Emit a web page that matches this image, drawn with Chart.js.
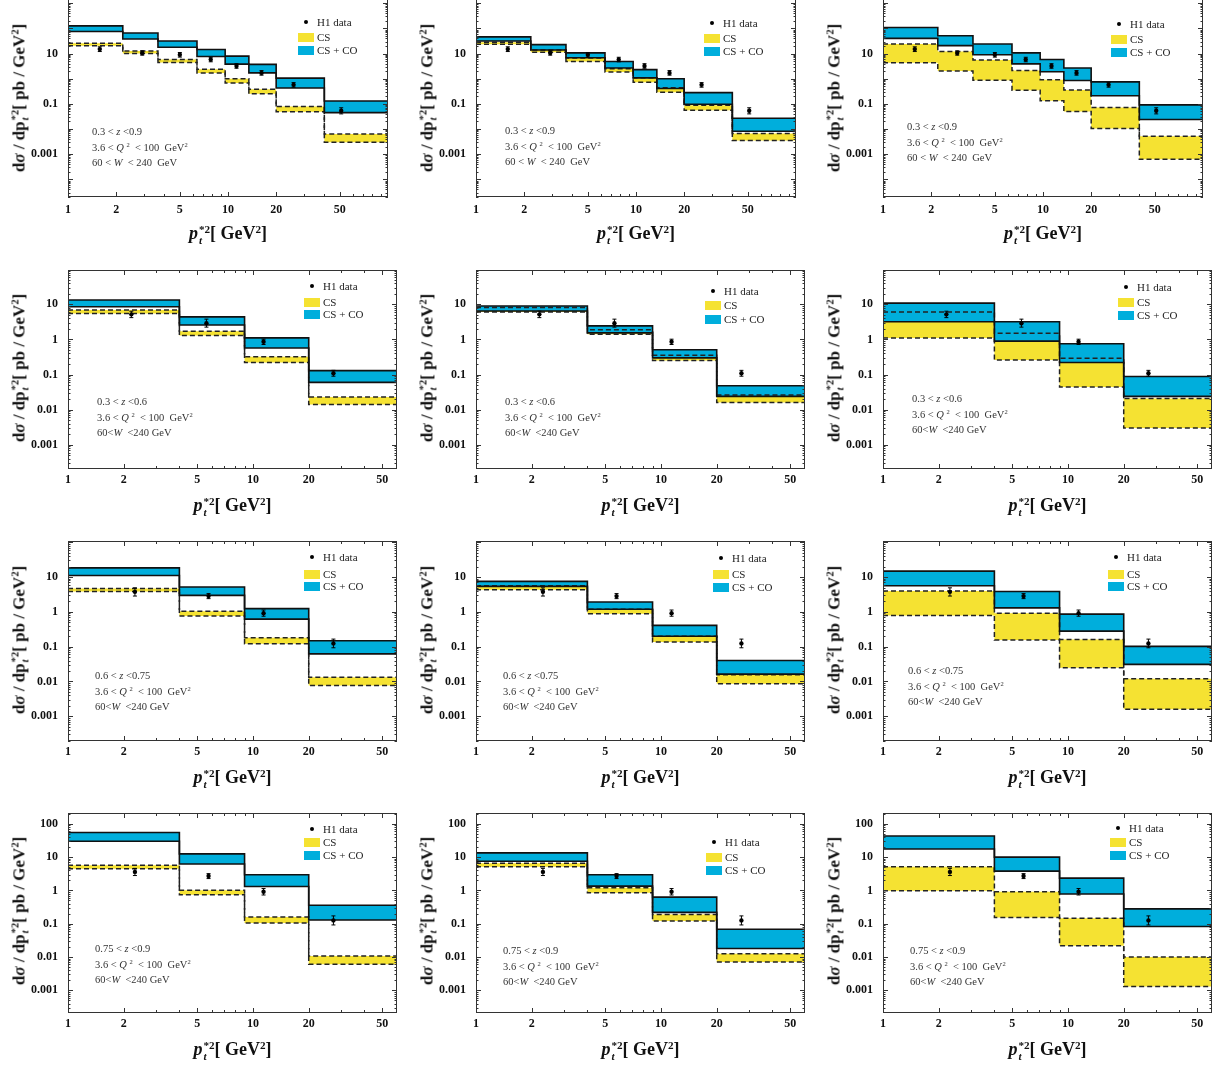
<!DOCTYPE html>
<html>
<head>
<meta charset="utf-8">
<script src="https://cdn.jsdelivr.net/npm/chart.js@4.4.1/dist/chart.umd.min.js"></script>
<style>
body{margin:0;background:#fff;width:1225px;height:1065px;overflow:hidden;position:relative;font-family:"Liberation Serif",serif;color:#111;}
canvas{position:absolute;}
.yt{position:absolute;transform:translate(-50%,-50%) rotate(-90deg);white-space:nowrap;font-weight:bold;font-size:17px;}
.xt{position:absolute;transform:translate(-50%,-50%);white-space:nowrap;font-weight:bold;font-size:18px;}
.ann{position:absolute;font-size:10.5px;color:#333;white-space:nowrap;line-height:15.5px;}
.lg{position:absolute;font-size:11px;color:#222;white-space:nowrap;line-height:11px;}
.ss{display:inline-block;vertical-align:middle;line-height:0.95;font-size:0.62em;text-align:left;margin-left:1px;}
.ss span{display:block;}
sup{font-size:0.62em;vertical-align:0.55em;line-height:0;}
.dot{position:absolute;width:4px;height:4px;border-radius:50%;background:#000;}
.sw{position:absolute;width:16px;height:9px;}
</style>
</head>
<body>
<script>
// bin edges (pt*^2, GeV^2)
const edgesA = [1, 2.2, 3.65, 6.4, 9.6, 13.5, 20, 40, 100];
const edgesB = [1, 4, 9, 20, 60];

// H1 data per row
const h1xA = [1.58, 2.91, 5.0, 7.8, 11.3, 16.2, 25.7, 51];
const h1yA = [15, 10.5, 8.9, 5.8, 3.2, 1.7, 0.57, 0.053];
const h1loA = [12, 8.6, 7.2, 4.7, 2.6, 1.38, 0.46, 0.040];
const h1hiA = [18.5, 12.8, 11, 7.1, 3.95, 2.1, 0.7, 0.07];

const h1xB = [2.2, 5.6, 11.4, 27.2];
const h1yB = [5.2, 2.9, 0.86, 0.109];
const h1loB = [4.2, 2.25, 0.72, 0.09];
const h1hiB = [6.4, 3.8, 1.02, 0.132];

const h1xC = [2.3, 5.75, 11.4, 27.2];
const h1yC = [3.76, 2.84, 0.92, 0.124];
const h1loC = [2.85, 2.4, 0.75, 0.093];
const h1hiC = [4.9, 3.35, 1.13, 0.165];

const h1xD = [2.3, 5.75, 11.4, 27.2];
const h1yD = [3.6, 2.7, 0.91, 0.126];
const h1loD = [2.8, 2.27, 0.73, 0.092];
const h1hiD = [4.6, 3.2, 1.14, 0.172];

// CS+CO (blue) and CS (yellow) bands, upper / lower per bin
const coHi1 = [126, 65, 31.4, 14.4, 7.9, 3.7, 1.05, 0.13];
const coLo1 = [75, 38, 17.7, 7.6, 3.8, 1.7, 0.43, 0.045];
const csHi1 = [25.4, 12.7, 5.8, 2.35, 0.99, 0.38, 0.079, 0.0063];
const csLo1 = [20.6, 10, 4.4, 1.7, 0.67, 0.25, 0.049, 0.003];

const coHi2 = [46, 22.5, 10.6, 4.85, 2.29, 1.0, 0.28, 0.027];
const coLo2 = [31.4, 13.9, 6.8, 2.66, 1.08, 0.41, 0.097, 0.0082];
const csHi2 = [27.8, 13.9, 6.6, 2.5, 1.08, 0.44, 0.089, 0.0066];
const csLo2 = [23.2, 11.3, 4.85, 1.86, 0.73, 0.29, 0.056, 0.0035];

const coHi3 = [108, 51, 24, 10.6, 5.8, 2.66, 0.75, 0.091];
const coLo3 = [40, 20.6, 8.9, 3.9, 1.9, 0.85, 0.21, 0.024];
const csHi3 = [24, 12, 5.5, 2.1, 0.9, 0.355, 0.072, 0.0052];
const csLo3 = [4.3, 2.03, 0.87, 0.35, 0.134, 0.05, 0.0105, 0.00063];

const coHi4 = [13.3, 4.4, 1.11, 0.13];
const coLo4 = [8.6, 2.6, 0.57, 0.06];
const csHi4 = [6.9, 1.71, 0.32, 0.023];
const csLo4 = [5.5, 1.29, 0.22, 0.014];

const coHi5 = [9.0, 2.45, 0.51, 0.048];
const coLo5 = [6.5, 1.54, 0.30, 0.024];
const csHi5 = [8.1, 1.9, 0.355, 0.026];
const csLo5 = [6.1, 1.41, 0.25, 0.016];

const coHi6 = [10.9, 3.2, 0.76, 0.088];
const coLo6 = [3.2, 0.9, 0.22, 0.024];
const csHi6 = [6.1, 1.5, 0.29, 0.021];
const csLo6 = [1.11, 0.26, 0.044, 0.003];

const coHi7 = [18.4, 5.2, 1.24, 0.148];
const coLo7 = [11.1, 2.97, 0.62, 0.062];
const csHi7 = [4.7, 1.05, 0.18, 0.0133];
const csLo7 = [3.85, 0.76, 0.122, 0.0077];

const coHi8 = [7.5, 1.92, 0.41, 0.04];
const coLo8 = [5.4, 1.19, 0.2, 0.0163];
const csHi8 = [5.6, 1.19, 0.2, 0.0155];
const csLo8 = [4.3, 0.88, 0.136, 0.0086];

const coHi9 = [14.8, 3.85, 0.86, 0.102];
const coLo9 = [5.6, 1.3, 0.28, 0.031];
const csHi9 = [4.0, 0.92, 0.162, 0.012];
const csLo9 = [0.79, 0.155, 0.025, 0.0016];

const coHi10 = [55, 12.5, 2.97, 0.36];
const coLo10 = [30, 6.2, 1.31, 0.13];
const csHi10 = [5.7, 1.02, 0.16, 0.0107];
const csLo10 = [4.5, 0.74, 0.105, 0.0061];

const coHi11 = [13.4, 2.97, 0.63, 0.068];
const coLo11 = [7.5, 1.35, 0.22, 0.018];
const csHi11 = [6.6, 1.2, 0.19, 0.0126];
const csLo11 = [5.1, 0.85, 0.12, 0.0071];

const coHi12 = [43, 10, 2.35, 0.28];
const coLo12 = [17.6, 3.8, 0.78, 0.083];
const csHi12 = [5.1, 0.91, 0.145, 0.01];
const csLo12 = [0.98, 0.155, 0.022, 0.0013];

// tick labels
const xTicks = [1, 2, 5, 10, 20, 50];
const yTicksA = [10, 0.1, 0.001];
const yTicksB = [10, 1, 0.1, 0.01, 0.001];
const yTicksD = [100, 10, 1, 0.1, 0.01, 0.001];

const zRanges = ['0.3 &lt; <i>z</i> &lt;0.9', '0.3 &lt; <i>z</i> &lt;0.6', '0.6 &lt; <i>z</i> &lt;0.75', '0.75 &lt; <i>z</i> &lt;0.9'];

const BLUE = '#00AEDC', YELLOW = '#F5E232';

const rows = [
  {edges: edgesA, x: h1xA, y: h1yA, lo: h1loA, hi: h1hiA, yt: yTicksA, xmax: 100, ymin: -4.70, ymax: 3.405, top: -10, h: 207, w: 320, pad: 6, mid: 98},
  {edges: edgesB, x: h1xB, y: h1yB, lo: h1loB, hi: h1hiB, yt: yTicksB, xmax: 60, ymin: -3.69, ymax: 1.98, top: 267, h: 202, w: 329, pad: 4, mid: 368},
  {edges: edgesB, x: h1xC, y: h1yC, lo: h1loC, hi: h1hiC, yt: yTicksB, xmax: 60, ymin: -3.71, ymax: 2.036, top: 538, h: 203, w: 329, pad: 4, mid: 640},
  {edges: edgesB, x: h1xD, y: h1yD, lo: h1loD, hi: h1hiD, yt: yTicksD, xmax: 60, ymin: -3.68, ymax: 2.325, top: 810, h: 203, w: 329, pad: 4, mid: 911}
];
const colLeft = [0, 408, 815];

const bands = [
  [coHi1, coLo1, csHi1, csLo1], [coHi2, coLo2, csHi2, csLo2], [coHi3, coLo3, csHi3, csLo3],
  [coHi4, coLo4, csHi4, csLo4], [coHi5, coLo5, csHi5, csLo5], [coHi6, coLo6, csHi6, csLo6],
  [coHi7, coLo7, csHi7, csLo7], [coHi8, coLo8, csHi8, csLo8], [coHi9, coLo9, csHi9, csLo9],
  [coHi10, coLo10, csHi10, csLo10], [coHi11, coLo11, csHi11, csLo11], [coHi12, coLo12, csHi12, csLo12]
];

// legend: swatch left, row y for H1 / CS / CS+CO ; annotation: left, first line centre
const legendPos = [
  [298, 22, 37, 50], [704, 23, 38, 51], [1111, 24, 39, 52],
  [304, 286, 302, 314], [705, 291, 305, 319], [1118, 287, 302, 315],
  [304, 557, 574, 586], [713, 558, 574, 587], [1108, 557, 574, 586],
  [304, 829, 842, 855], [706, 842, 857, 870], [1110, 828, 842, 855]
];
const annPos = [
  [92, 132], [505, 131], [907, 127],
  [97, 402], [505, 402], [912, 399],
  [95, 676], [503, 676], [908, 671],
  [95, 949], [503, 951], [910, 951]
];

const frameTicks = {
  id: 'frameTicks',
  afterDatasetsDraw(chart) {
    const {ctx, chartArea: a, scales: {x, y}} = chart;
    ctx.save();
    ctx.strokeStyle = '#333';
    ctx.lineWidth = 1;
    ctx.strokeRect(a.left + 0.5, a.top + 0.5, a.right - a.left - 1, a.bottom - a.top - 1);
    ctx.beginPath();
    for (let k = Math.floor(Math.log10(x.min)); k <= Math.ceil(Math.log10(x.max)); k++) {
      for (let m = 1; m < 10; m++) {
        const v = m * Math.pow(10, k);
        if (v <= x.min || v >= x.max) continue;
        const px = Math.round(x.getPixelForValue(v)) + 0.5;
        const len = (m === 1 || m === 2 || m === 5) ? 5 : 3;
        ctx.moveTo(px, a.bottom); ctx.lineTo(px, a.bottom - len);
        ctx.moveTo(px, a.top); ctx.lineTo(px, a.top + len);
      }
    }
    for (let k = Math.floor(Math.log10(y.min)); k <= Math.ceil(Math.log10(y.max)); k++) {
      for (let m = 1; m < 10; m++) {
        const v = m * Math.pow(10, k);
        if (v <= y.min || v >= y.max) continue;
        const py = Math.round(y.getPixelForValue(v)) + 0.5;
        const len = m === 1 ? 5 : 2.5;
        ctx.moveTo(a.left, py); ctx.lineTo(a.left + len, py);
        ctx.moveTo(a.right, py); ctx.lineTo(a.right - len, py);
      }
    }
    ctx.stroke();
    ctx.restore();
  }
};

function steps(edges, vals) {
  return edges.map((e, i) => ({x: e, y: vals[Math.min(i, vals.length - 1)]}));
}

function addDiv(cls, html, left, top) {
  const d = document.createElement('div');
  d.className = cls;
  d.innerHTML = html;
  d.style.left = left + 'px';
  d.style.top = top + 'px';
  document.body.appendChild(d);
  return d;
}

const tickFont = {family: 'Liberation Serif', weight: 'bold', size: 12};
const yTitle = 'd<i>σ</i> / dp<span class="ss"><span>*2</span><span><i>t</i></span></span>[ pb / GeV<sup>2</sup>]';
const xTitle = '<i>p</i><span class="ss"><span>*2</span><span><i>t</i></span></span>[ GeV<sup>2</sup>]';

bands.forEach((b, i) => {
  const r = rows[Math.floor(i / 3)];
  const cl = colLeft[i % 3];
  const cv = document.createElement('canvas');
  cv.width = 68 + r.w + 6;
  cv.height = 2 + r.h + 40;
  cv.style.left = cl + 'px';
  cv.style.top = (r.top - 2) + 'px';
  document.body.appendChild(cv);

  const errPts = [];
  r.x.forEach((xv, j) => {
    errPts.push({x: xv, y: r.lo[j]}, {x: xv, y: r.hi[j]}, {x: xv, y: null});
  });

  new Chart(cv, {
    type: 'line',
    data: {
      datasets: [
        {data: errPts, borderColor: '#000', borderWidth: 1, pointStyle: 'line', pointRadius: 2,
         pointBorderWidth: 1, pointBorderColor: '#000', spanGaps: false},
        {data: r.x.map((xv, j) => ({x: xv, y: r.y[j]})), showLine: false, pointRadius: 2.2,
         pointBackgroundColor: '#000', pointBorderColor: '#000', pointBorderWidth: 0},
        {data: steps(r.edges, b[0]), stepped: true, borderColor: '#111', borderWidth: 1.6,
         pointRadius: 0, fill: '+1', backgroundColor: BLUE},
        {data: steps(r.edges, b[1]), stepped: true, borderColor: '#111', borderWidth: 1.6, pointRadius: 0},
        {data: steps(r.edges, b[2]), stepped: true, borderColor: '#222', borderWidth: 1.5, borderDash: [5, 3],
         pointRadius: 0, fill: '+1', backgroundColor: YELLOW},
        {data: steps(r.edges, b[3]), stepped: true, borderColor: '#222', borderWidth: 1.5, borderDash: [5, 3], pointRadius: 0}
      ]
    },
    options: {
      responsive: false,
      animation: false,
      events: [],
      layout: {padding: {top: 2, right: 6, left: 0, bottom: 0}},
      plugins: {legend: {display: false}, tooltip: {enabled: false}, filler: {drawTime: 'beforeDatasetsDraw'}},
      scales: {
        x: {
          type: 'logarithmic', min: 1, max: r.xmax,
          grid: {display: false, drawTicks: false}, border: {display: false},
          ticks: {font: tickFont, color: '#111', padding: r.pad, maxRotation: 0, autoSkip: false, callback: v => String(v)},
          afterBuildTicks: s => { s.ticks = xTicks.map(v => ({value: v})); },
          afterFit: s => { s.height = 40; s.paddingLeft = 0; s.paddingRight = 0; }
        },
        y: {
          type: 'logarithmic', min: Math.pow(10, r.ymin), max: Math.pow(10, r.ymax),
          grid: {display: false, drawTicks: false}, border: {display: false},
          ticks: {font: tickFont, color: '#111', padding: 10, autoSkip: false, callback: v => String(v)},
          afterBuildTicks: s => { s.ticks = r.yt.map(v => ({value: v})); },
          afterFit: s => { s.width = 68; s.paddingTop = 0; s.paddingBottom = 0; }
        }
      }
    },
    plugins: [frameTicks]
  });

  addDiv('yt', yTitle, cl + 20, r.mid);
  addDiv('xt', xTitle, cl + 68 + r.w / 2, r.top + r.h + 37);

  const ap = annPos[i];
  const wTxt = i < 3 ? '60 &lt; <i>W</i> &nbsp;&lt; 240 &nbsp;GeV' : '60&lt;<i>W</i> &nbsp;&lt;240 GeV';
  addDiv('ann', zRanges[Math.floor(i / 3)] + '<br>3.6 &lt; <i>Q</i> <sup>2</sup> &nbsp;&lt; 100 &nbsp;GeV<sup>2</sup><br>' + wTxt,
         ap[0], ap[1] - 7.75);

  const lp = legendPos[i];
  addDiv('dot', '', lp[0] + 6, lp[1] - 2);
  addDiv('lg', 'H1 data', lp[0] + 19, lp[1] - 5.5);
  addDiv('sw', '', lp[0], lp[2] - 4.5).style.background = YELLOW;
  addDiv('lg', 'CS', lp[0] + 19, lp[2] - 5.5);
  addDiv('sw', '', lp[0], lp[3] - 4.5).style.background = BLUE;
  addDiv('lg', 'CS + CO', lp[0] + 19, lp[3] - 5.5);
});
</script>
</body>
</html>
